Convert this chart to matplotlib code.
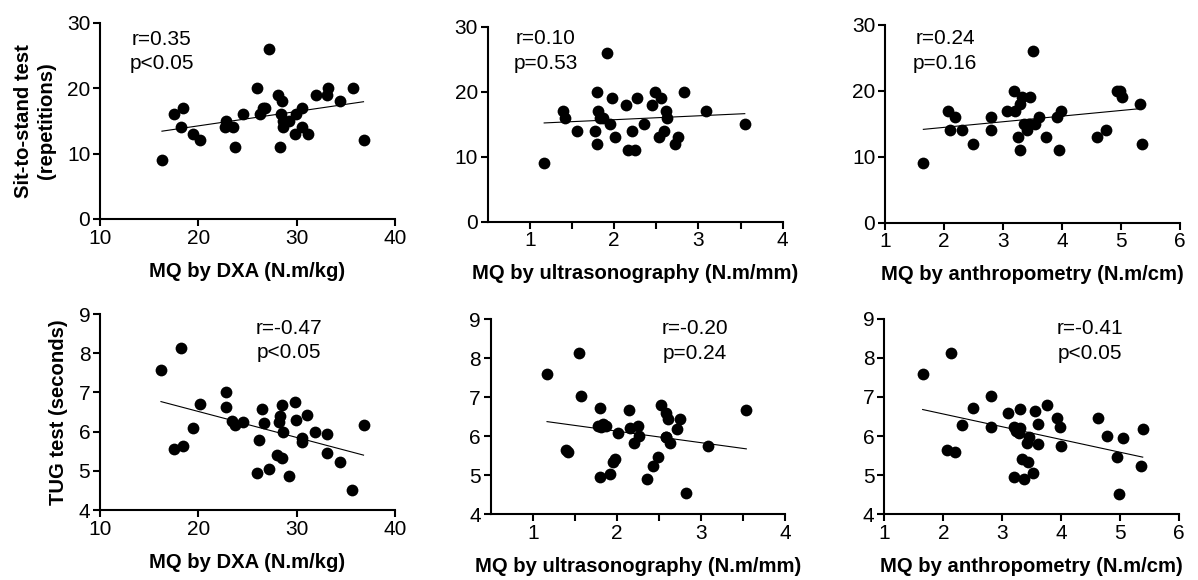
import numpy as np
import matplotlib
matplotlib.use("Agg")
import matplotlib.pyplot as plt

plt.rcParams['font.family'] = ['Liberation Sans', 'DejaVu Sans']

# ---------------- data ----------------
dxa_sts_x = [16.3, 17.5, 18.4, 18.2, 19.5, 20.2, 22.8, 22.7, 23.5, 23.7, 24.5, 26.0, 26.3, 26.6, 26.8,
             27.2, 28.1, 28.5, 28.4, 28.3, 28.6, 28.6, 29.2, 29.8, 29.9, 30.5, 30.5, 31.2, 32.0, 33.1,
             33.2, 34.4, 35.7, 36.8]
dxa_sts_y = [9, 16, 17, 14, 13, 12, 15, 14, 14, 11, 16, 20, 16, 17, 17,
             26, 19, 18, 16, 11, 15, 14, 15, 13, 16, 17, 14, 13, 19, 19,
             20, 18, 20, 12]

us_sts_x = [1.17, 1.39, 1.42, 1.56, 1.77, 1.80, 1.80, 1.81, 1.83, 1.87, 1.92, 1.95, 1.97, 2.01, 2.14,
            2.16, 2.21, 2.25, 2.27, 2.36, 2.45, 2.49, 2.53, 2.56, 2.59, 2.61, 2.63, 2.72, 2.76, 2.83,
            3.09, 3.55]
us_sts_y = [9, 17, 16, 14, 14, 12, 20, 17, 16, 16, 26, 15, 19, 13, 18,
            11, 14, 11, 19, 15, 18, 20, 13, 19, 14, 17, 16, 12, 13, 20,
            17, 15]

an_sts_x = [1.65, 2.06, 2.11, 2.19, 2.30, 2.49, 2.80, 2.80, 3.07, 3.19, 3.20, 3.26, 3.29, 3.29, 3.33,
            3.36, 3.41, 3.44, 3.45, 3.51, 3.55, 3.61, 3.73, 3.91, 3.95, 3.98, 4.60, 4.75, 4.94, 4.98,
            5.02, 5.33, 5.35]
an_sts_y = [9, 17, 14, 16, 14, 12, 14, 16, 17, 20, 17, 13, 11, 18, 19,
            15, 14, 15, 19, 26, 15, 16, 13, 16, 11, 17, 13, 14, 20, 20,
            19, 18, 12]

dxa_tug_x = [16.2, 18.2, 17.5, 18.4, 19.5, 20.2, 22.8, 22.8, 23.4, 23.7, 24.5, 26.0, 26.2, 26.5, 26.7,
             27.2, 28.0, 28.2, 28.3, 28.5, 28.5, 28.6, 29.2, 29.8, 29.9, 30.5, 30.5, 31.1, 31.9, 33.1,
             33.1, 34.4, 35.6, 36.8]
dxa_tug_y = [7.57, 8.12, 5.56, 5.62, 6.08, 6.70, 7.02, 6.64, 6.27, 6.16, 6.24, 4.94, 5.79, 6.58, 6.21,
             5.05, 5.40, 6.25, 6.41, 6.67, 5.33, 5.98, 4.88, 6.76, 6.30, 5.84, 5.73, 6.42, 5.99, 5.95,
             5.45, 5.23, 4.51, 6.18]

us_tug_x = [1.17, 1.55, 1.57, 1.39, 1.42, 1.80, 1.80, 1.78, 1.81, 1.84, 1.87, 1.92, 1.95, 1.98, 2.01,
            2.14, 2.16, 2.25, 2.20, 2.26, 2.36, 2.43, 2.49, 2.53, 2.58, 2.59, 2.61, 2.63, 2.59, 2.72,
            2.75, 2.82, 3.09, 3.54]
us_tug_y = [7.60, 8.14, 7.04, 5.64, 5.58, 6.72, 4.96, 6.27, 6.23, 6.30, 6.25, 5.04, 5.33, 5.40, 6.08,
            6.68, 6.20, 6.26, 5.83, 6.01, 4.90, 5.24, 5.47, 6.79, 5.99, 6.59, 6.45, 5.82, 5.98, 6.19,
            6.45, 4.54, 5.75, 6.66]

an_tug_x = [1.65, 2.13, 2.06, 2.20, 2.31, 2.50, 2.80, 2.81, 3.09, 3.20, 3.24, 3.28, 3.30, 3.30, 3.19,
            3.34, 3.37, 3.43, 3.42, 3.46, 3.52, 3.55, 3.61, 3.61, 3.75, 3.92, 3.97, 3.99, 4.62, 4.77,
            4.94, 4.98, 5.04, 5.35, 5.38]
an_tug_y = [7.59, 8.13, 5.64, 5.59, 6.28, 6.71, 7.03, 6.24, 6.59, 6.23, 6.14, 6.09, 6.21, 6.69, 4.96,
            5.41, 4.89, 5.34, 5.83, 5.98, 5.05, 6.65, 6.30, 5.80, 6.79, 6.45, 6.24, 5.74, 6.45, 5.99,
            5.47, 4.53, 5.96, 5.24, 6.19]

r_labels = ["r=0.35", "r=0.10", "r=0.24", "r=-0.47", "r=-0.20", "r=-0.41"]
p_labels = ["p<0.05", "p=0.53", "p=0.16", "p<0.05", "p=0.24", "p<0.05"]
x_labels = ["MQ by DXA (N.m/kg)", "MQ by ultrasonography (N.m/mm)", "MQ by anthropometry (N.m/cm)"] * 2
y_labels = ["Sit-to-stand test\n(repetitions)", None, None, "TUG test (seconds)", None, None]

panels = [
    (dxa_sts_x, dxa_sts_y), (us_sts_x, us_sts_y), (an_sts_x, an_sts_y),
    (dxa_tug_x, dxa_tug_y), (us_tug_x, us_tug_y), (an_tug_x, an_tug_y),
]

# ---------------- layout ----------------
W, H = 1198, 580
fig = plt.figure(figsize=(W / 100, H / 100), dpi=100)

boxes = [  # left, right, top, bottom in pixels
    (100, 395, 22.7, 219), (487.7, 782.7, 26.7, 221.7), (885, 1180, 25, 222.7),
    (100, 395, 314, 510), (490.7, 785, 319.3, 514), (884.3, 1179.3, 318.7, 514.3),
]
xlims = [(10, 40), (0.5, 4), (1, 6)] * 2
ylims = [(0, 30)] * 3 + [(4, 9)] * 3
xticks = [[10, 20, 30, 40], [1, 2, 3, 4], [1, 2, 3, 4, 5, 6]] * 2
yticks = [[0, 10, 20, 30]] * 3 + [[4, 5, 6, 7, 8, 9]] * 3
text_pos = [(16.3, 27.5), (1.19, 28.2), (2.02, 28.0), (29.2, 8.63), (2.93, 8.77), (4.48, 8.75)]
p_offset = [3.7, 3.8, 3.8, 0.62, 0.64, 0.64]

for i, (xs, ys) in enumerate(panels):
    l, r, t, b = boxes[i]
    ax = fig.add_axes([l / W, 1 - b / H, (r - l) / W, (b - t) / H])
    xs = np.asarray(xs)
    ys = np.asarray(ys)
    ax.scatter(xs, ys, s=72, color='black', zorder=3, linewidths=0)
    k, c = np.polyfit(xs, ys, 1)
    xx = np.array([xs.min(), xs.max()])
    ax.plot(xx, k * xx + c, color='black', lw=0.8, zorder=2)
    ax.set_xlim(*xlims[i])
    ax.set_ylim(*ylims[i])
    ax.set_xticks(xticks[i])
    ax.set_yticks(yticks[i])
    if i in (1, 4):
        ax.set_xticks([1.5, 2.5, 3.5], minor=True)
    for s in ('top', 'right'):
        ax.spines[s].set_visible(False)
    for s in ('left', 'bottom'):
        ax.spines[s].set_linewidth(1.5)
    ax.tick_params(axis='both', which='both', direction='out', length=5, width=1.5,
                   labelsize=15, pad=2, color='black')
    ax.tick_params(axis='x', which='minor', length=5, width=1.5)
    ax.set_xlabel(x_labels[i], fontsize=14.6, fontweight='bold', labelpad=10)
    if y_labels[i]:
        ax.set_ylabel(y_labels[i], fontsize=14.6, fontweight='bold', labelpad=8,
                      linespacing=1.25)
    tx, ty = text_pos[i]
    ax.text(tx, ty, r_labels[i], ha='center', va='center', fontsize=15)
    ax.text(tx, ty - p_offset[i], p_labels[i], ha='center', va='center', fontsize=15)

fig.savefig("out.png", dpi=100)
